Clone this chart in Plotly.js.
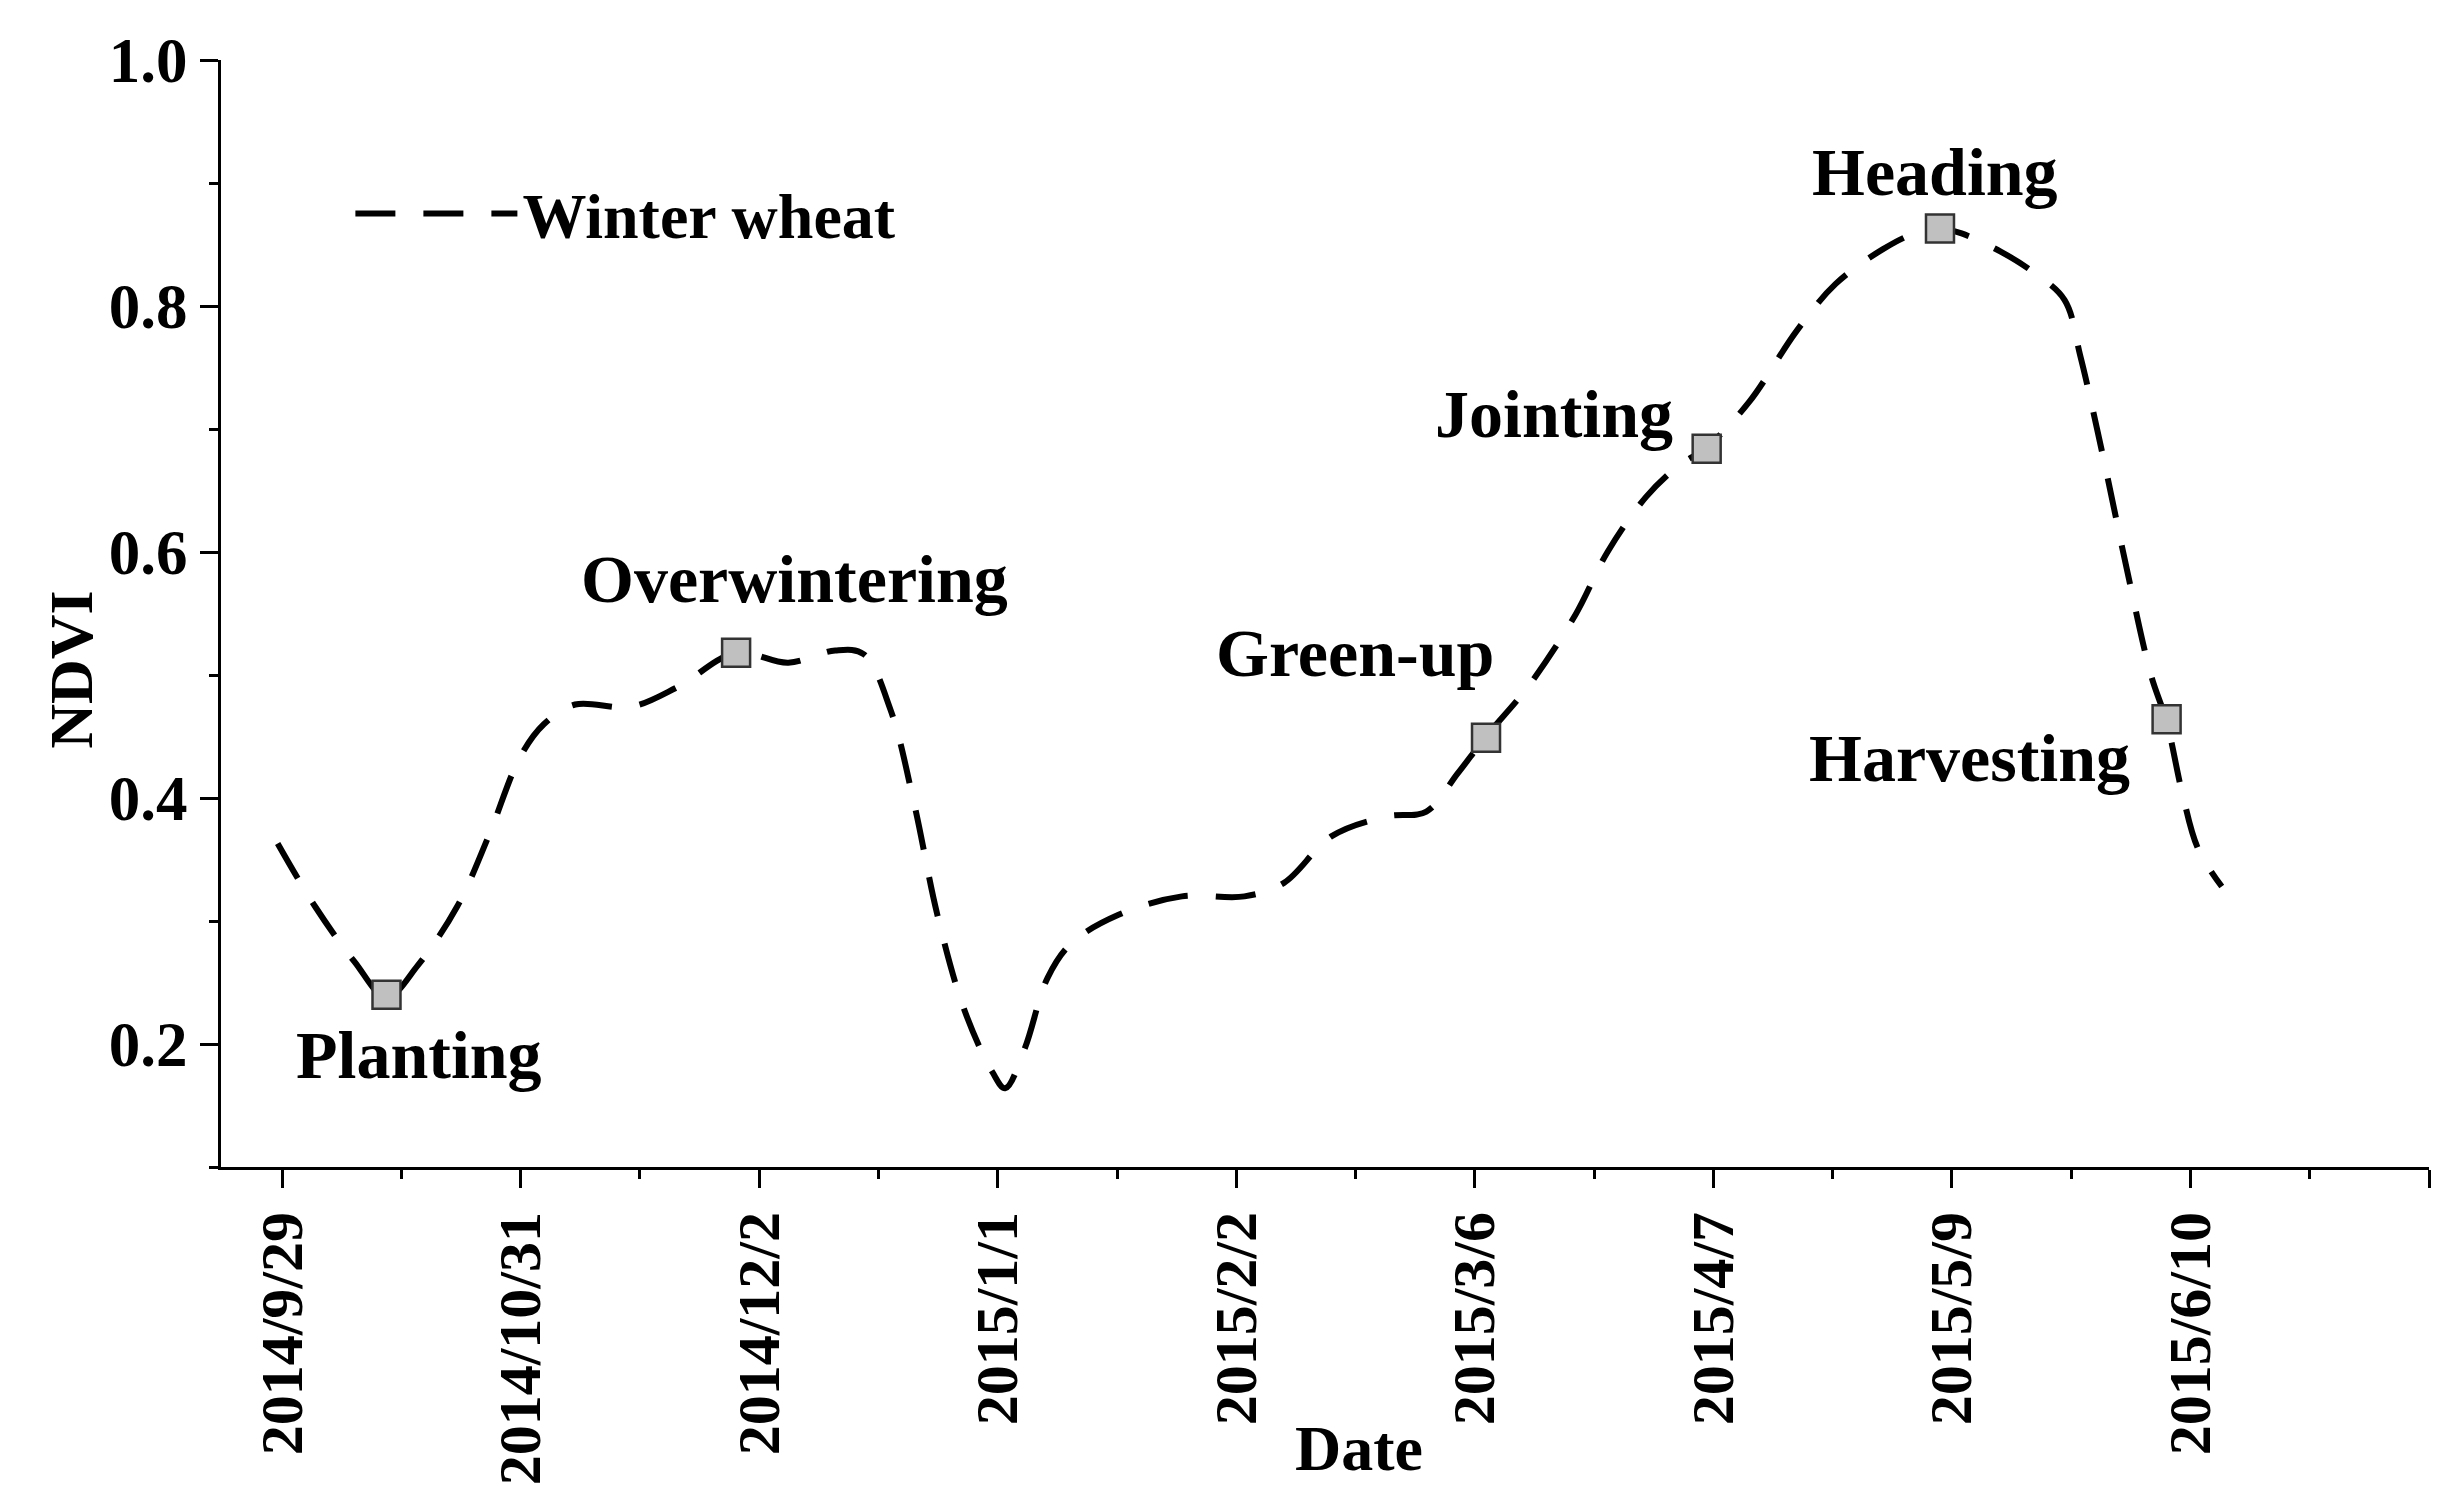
<!DOCTYPE html>
<html>
<head>
<meta charset="utf-8">
<script src="https://cdn.plot.ly/plotly-3.0.1.min.js"></script>
<style>html,body{margin:0;padding:0;background:#fff;}#chart{width:2449px;height:1486px;}</style>
</head>
<body>
<div id="chart"></div>
<script>
// X axis: days since 2014/9/29
const tickDays = [0, 32, 64, 96, 128, 160, 192, 224, 256, 288];
const tickLabels = ['2014/9/29', '2014/10/31', '2014/12/2', '2015/1/1', '2015/2/2', '2015/3/6', '2015/4/7', '2015/5/9', '2015/6/10', ''];

// Winter wheat NDVI curve
const ndviDays = [-0.6, 4.4, 9.7, 14, 18.2, 23.5, 27.7, 31.9, 35.1, 39.3, 46.7, 53, 60.9, 67.9, 74.2, 78, 81.6, 84.8, 87.9, 91.5, 95.3, 97, 99.6, 102.7, 105.9, 112.2, 120.7, 129.1, 134.4, 140.8, 148.2, 153.5, 157.7, 161.5, 167.2, 173.5, 177.8, 183, 187.3, 191.1, 196.8, 203.2, 208.4, 214.7, 219, 222.4, 225.3, 230.6, 234.8, 239.1, 241.2, 244.3, 247.5, 250.7, 252.8, 254.9, 257, 260.2];
const ndviValues = [0.363, 0.312, 0.267, 0.238, 0.264, 0.312, 0.369, 0.433, 0.46, 0.476, 0.474, 0.49, 0.518, 0.51, 0.52, 0.517, 0.472, 0.395, 0.305, 0.228, 0.177, 0.164, 0.196, 0.254, 0.282, 0.305, 0.32, 0.32, 0.331, 0.369, 0.385, 0.389, 0.42, 0.45, 0.491, 0.549, 0.6, 0.645, 0.67, 0.685, 0.722, 0.78, 0.818, 0.846, 0.859, 0.863, 0.859, 0.844, 0.828, 0.805, 0.76, 0.677, 0.585, 0.5, 0.462, 0.404, 0.359, 0.328];

// Growth stages
const stageNames = ['Planting', 'Overwintering', 'Green-up', 'Jointing', 'Heading', 'Harvesting'];
const stageDays = [14, 60.9, 161.5, 191.1, 222.4, 252.8];
const stageValues = [0.24, 0.518, 0.449, 0.684, 0.863, 0.464];
// label offsets in pixels relative to each stage marker
const labelShiftX = [33, 58, -131, -153, -5, -197];
const labelShiftY = [-60, 74, 85, 35, 57, -39];

const FONT = 'Liberation Serif, Times New Roman, serif';

const traces = [
  {
    x: ndviDays, y: ndviValues, type: 'scatter', mode: 'lines',
    name: 'Winter wheat',
    line: {shape: 'spline', smoothing: 1, color: '#000', width: 6, dash: '40px,28px'},
    hoverinfo: 'skip'
  },
  {
    x: stageDays, y: stageValues, type: 'scatter', mode: 'markers',
    showlegend: false,
    marker: {symbol: 'square', size: 28, color: '#c0c0c0', line: {color: '#333', width: 2.5}}
  }
];

const annotations = stageNames.map((t, i) => ({
  x: stageDays[i], y: stageValues[i], xref: 'x', yref: 'y',
  text: t, showarrow: false, xanchor: 'center', yanchor: 'middle',
  xshift: labelShiftX[i], yshift: labelShiftY[i],
  font: {family: FONT, size: 68, weight: 'bold', color: '#000'}
}));
annotations.push({
  text: 'Date', xref: 'paper', yref: 'paper', x: 0.5154, y: -0.254,
  showarrow: false, xanchor: 'center', yanchor: 'middle',
  font: {family: FONT, size: 64, weight: 'bold', color: '#000'}
});
annotations.push({
  text: 'NDVI', xref: 'paper', yref: 'paper', x: -0.068, y: 0.449, textangle: -90,
  showarrow: false, xanchor: 'center', yanchor: 'middle',
  font: {family: FONT, size: 62, weight: 'bold', color: '#000'}
});

const layout = {
  width: 2449, height: 1486,
  margin: {l: 221, r: 20, t: 60, b: 319},
  paper_bgcolor: '#fff', plot_bgcolor: '#fff',
  font: {family: FONT, weight: 'bold', color: '#000'},
  showlegend: true,
  legend: {
    x: 0.0586, y: 0.861, xanchor: 'left', yanchor: 'middle',
    bgcolor: 'rgba(0,0,0,0)', itemwidth: 162,
    font: {family: FONT, size: 64, weight: 'bold', color: '#000'}
  },
  xaxis: {
    range: [-8.2, 288], tickmode: 'array', tickvals: tickDays, ticktext: tickLabels,
    tickangle: -90, ticks: 'outside', ticklen: 18, tickwidth: 3, tickcolor: '#000',
    showline: true, linewidth: 3, linecolor: '#000', showgrid: false, zeroline: false,
    tickfont: {family: FONT, size: 60, weight: 'bold', color: '#000'},
    minor: {tickmode: 'linear', tick0: 0, dtick: 16, ticks: 'outside', ticklen: 9, tickwidth: 3, tickcolor: '#000', showgrid: false}
  },
  yaxis: {
    range: [0.1, 1.0], tickmode: 'array', tickvals: [0.2, 0.4, 0.6, 0.8, 1.0], tickformat: '.1f',
    ticks: 'outside', ticklen: 18, tickwidth: 3, tickcolor: '#000',
    showline: true, linewidth: 3, linecolor: '#000', showgrid: false, zeroline: false,
    tickfont: {family: FONT, size: 63, weight: 'bold', color: '#000'},
    minor: {tickmode: 'linear', tick0: 0, dtick: 0.1, ticks: 'outside', ticklen: 9, tickwidth: 3, tickcolor: '#000', showgrid: false}
  },
  annotations: annotations
};

Plotly.newPlot('chart', traces, layout, {displayModeBar: false, staticPlot: true});
</script>
</body>
</html>
